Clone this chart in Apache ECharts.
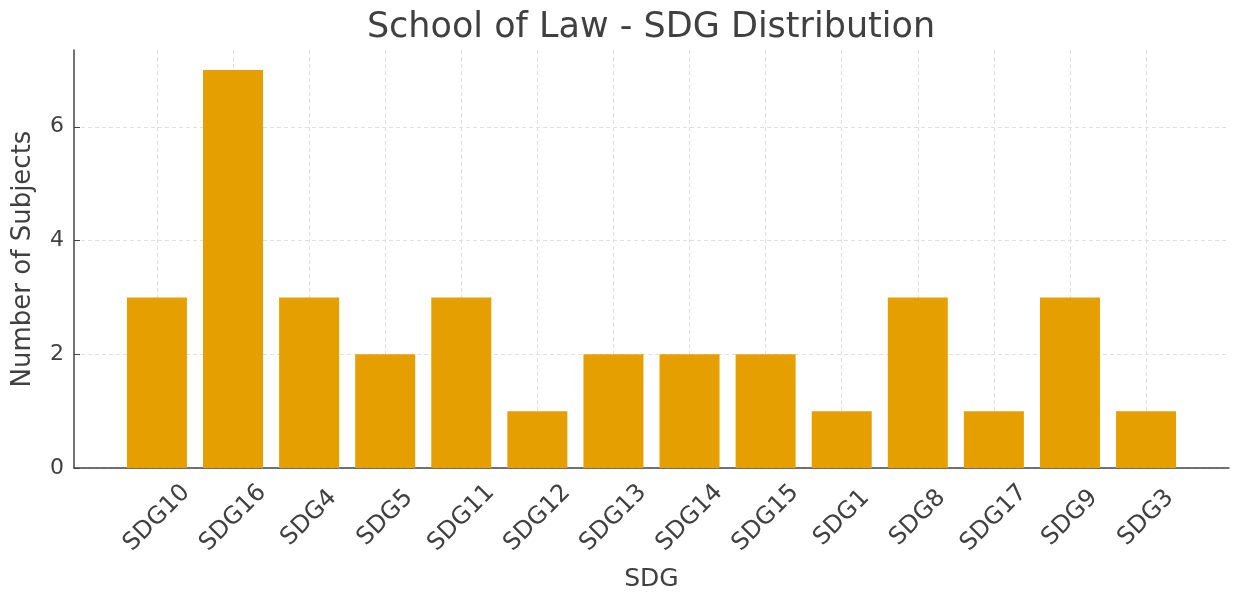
<!DOCTYPE html>
<html>
<head>
<meta charset="utf-8">
<script src="https://cdn.jsdelivr.net/npm/echarts@6/dist/echarts.min.js"></script>
<style>
html,body{margin:0;padding:0;background:#fff;}
#chart{width:1234px;height:599px;}
</style>
</head>
<body>
<div id="chart"></div>
<script>
const categories = ['SDG10','SDG16','SDG4','SDG5','SDG11','SDG12','SDG13','SDG14','SDG15','SDG1','SDG8','SDG17','SDG9','SDG3'];
const values = [3,7,3,2,3,1,2,2,2,1,3,1,3,1];
const yTicks = [0,2,4,6];

const font = 'DejaVu Sans';
const textColor = '#404040';
const xTicks = categories.map((c, i) => i);

const chart = echarts.init(document.getElementById('chart'), null, {renderer: 'canvas'});
chart.setOption({
  animation: false,
  backgroundColor: '#ffffff',
  title: {
    text: 'School of Law - SDG Distribution',
    left: 646, top: 5, textAlign: 'center',
    textStyle: {fontFamily: font, fontSize: 35, fontWeight: 'normal', color: textColor}
  },
  grid: {left: 74, right: 5, top: 50, bottom: 131, containLabel: false},
  xAxis: {
    type: 'value', min: -1.09, max: 14.09,
    name: 'SDG', nameLocation: 'middle', nameGap: 99,
    nameTextStyle: {fontFamily: font, fontSize: 25, color: textColor},
    axisLine: {show: true, onZero: false, lineStyle: {color: '#444', width: 1.5}},
    axisTick: {show: true, inside: true, length: 6, customValues: xTicks, lineStyle: {color: '#444', width: 1}},
    axisLabel: {
      customValues: xTicks, rotate: 45, margin: 50, align: 'center', verticalAlign: 'middle',
      fontFamily: font, fontSize: 24, color: textColor,
      formatter: v => categories[Math.round(v)] || ''
    },
    splitLine: {show: true, lineStyle: {color: '#e0e0e0', type: [4, 3], width: 1}}
  },
  yAxis: {
    type: 'value', min: 0, max: 7.35,
    name: 'Number of Subjects', nameLocation: 'middle', nameGap: 38, nameRotate: 90,
    nameTextStyle: {fontFamily: font, fontSize: 26, color: textColor},
    axisLine: {show: true, onZero: false, lineStyle: {color: '#444', width: 1.5}},
    axisTick: {show: true, inside: true, length: 6, customValues: yTicks, lineStyle: {color: '#444', width: 1}},
    axisLabel: {customValues: yTicks, margin: 10, fontFamily: font, fontSize: 22, color: textColor},
    splitLine: {show: true, lineStyle: {color: '#e0e0e0', type: [4, 3], width: 1}}
  },
  series: [{
    type: 'bar',
    barWidth: 60,
    data: values.map((v, i) => [i, v]),
    itemStyle: {color: '#E69F00'}
  }]
});
</script>
</body>
</html>
